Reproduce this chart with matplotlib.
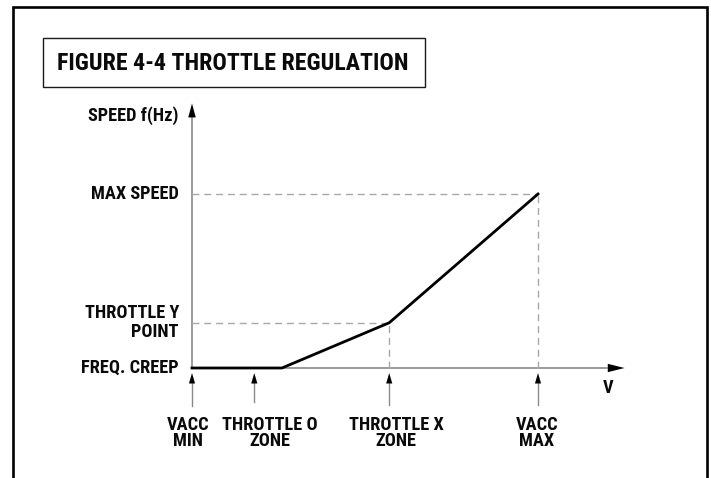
import matplotlib
matplotlib.use("Agg")
import matplotlib.pyplot as plt
from matplotlib import font_manager as fm
from matplotlib.lines import Line2D
from matplotlib.patches import Rectangle

# ---- data ----
curve_x = [0, 26, 57, 100]
curve_y = [0, 0, 26, 100]
x_marks = [0, 18, 57, 100]
x_labels = ["VACC\nMIN", "THROTTLE O\nZONE", "THROTTLE X\nZONE", "VACC\nMAX"]
y_marks = [0, 26, 100]
y_labels = ["FREQ. CREEP", "THROTTLE Y\nPOINT", "MAX SPEED"]
throttle_x, throttle_y = 57, 26
max_x, max_y = 100, 100
title = "FIGURE 4-4 THROTTLE REGULATION"
y_axis_label = "SPEED f(Hz)"
x_axis_label = "V"

names = {f.name for f in fm.fontManager.ttflist}
FONT = "DejaVu Sans"
for cand in ["Roboto Condensed", "Archivo Narrow", "Barlow Condensed", "Asap Condensed"]:
    if cand in names:
        FONT = cand
        break
plt.rcParams["font.family"] = [FONT, "DejaVu Sans"]

W, H = 711, 478
fig = plt.figure(figsize=(W / 100, H / 100), dpi=100)

def fx(px):
    return px / W

def fy(py):
    return 1 - py / H

# outer frame (open at bottom)
frame = Line2D([fx(13), fx(13), fx(707), fx(707)], [fy(490), fy(7), fy(7), fy(490)],
               transform=fig.transFigure, color="black", lw=1.9, solid_joinstyle="miter")
fig.add_artist(frame)

# title box
fig.add_artist(Rectangle((fx(43), fy(87)), fx(425) - fx(43), fy(38) - fy(87),
                         transform=fig.transFigure, fill=False, ec="#1a1a1a", lw=1.0))
fig.text(fx(233), fy(63), title, ha="center", va="center", fontsize=17.2,
         fontweight="bold", color="#0a0a0a")

ax = fig.add_axes([fx(192), fy(368), fx(538) - fx(192), fy(194) - fy(368)])
ax.set_xlim(0, 100)
ax.set_ylim(0, 100)
ax.axis("off")

AXC = "#8a8a8a"
DASHC = "#a8a8a8"

def head(x0, y0, x1, y1, hl, hw):
    ax.annotate("", xy=(x1, y1), xytext=(x0, y0),
                arrowprops=dict(arrowstyle=f"-|>,head_length={hl},head_width={hw}",
                                color="black", lw=0.01, mutation_scale=10,
                                shrinkA=0, shrinkB=0),
                annotation_clip=False)

y_tip = 152
x_tip = 125
# axes
ax.plot([0, 0], [0, y_tip - 5], color=AXC, lw=1.2, clip_on=False)
head(0, y_tip - 8, 0, y_tip, 1.0, 0.27)
ax.plot([0, x_tip - 5], [0, 0], color=AXC, lw=1.2, clip_on=False)
head(x_tip - 4, 0, x_tip, 0, 1.2, 0.3)

# dashed guides
dash = dict(color=DASHC, lw=1.0, dashes=(5, 3.5), clip_on=False)
ax.plot([0, max_x], [max_y, max_y], **dash)
ax.plot([max_x, max_x], [0, max_y], **dash)
ax.plot([0, throttle_x], [throttle_y, throttle_y], **dash)
ax.plot([throttle_x, throttle_x], [0, throttle_y], **dash)

# curve
ax.plot(curve_x, curve_y, color="black", lw=2.0, clip_on=False, solid_joinstyle="miter")

# bottom marker arrows
tails = [-21.8, -19.5, -21.2, -21.2]
for xm, tl in zip(x_marks, tails):
    ax.plot([xm, xm], [tl, -5], color=AXC, lw=1.0, clip_on=False)
    head(xm, -8, xm, -2.9, 0.75, 0.22)

fs = 13.2
lab_dx = [-3, 11.5, 5, -0.7]
for xm, lab, dx in zip(x_marks, x_labels, lab_dx):
    ax.annotate(lab, xy=(xm, 0), xytext=(dx, -46.5), textcoords="offset points",
                ha="center", va="center", fontsize=fs, fontweight="bold",
                linespacing=0.85, annotation_clip=False, color="#0a0a0a")

for ym, lab in zip(y_marks, y_labels):
    ax.annotate(lab, xy=(0, ym), xytext=(-9.4, 0), textcoords="offset points",
                ha="right", va="center", fontsize=fs, fontweight="bold",
                linespacing=1.05, annotation_clip=False, color="#0a0a0a")

ax.annotate(y_axis_label, xy=(0, y_tip), xytext=(-10, -9), textcoords="offset points",
            ha="right", va="center", fontsize=fs, fontweight="bold",
            annotation_clip=False, color="#0a0a0a")
ax.annotate(x_axis_label, xy=(x_tip, 0), xytext=(-11.5, -14.4), textcoords="offset points",
            ha="center", va="center", fontsize=fs, fontweight="bold",
            annotation_clip=False, color="#0a0a0a")

fig.savefig("out.png", dpi=100, facecolor="white")
